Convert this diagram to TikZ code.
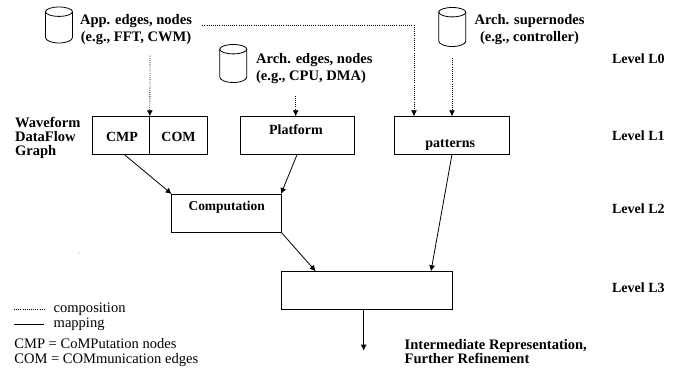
\documentclass[tikz,border=0pt]{standalone}
\usepackage{fontspec}
\setmainfont{Liberation Serif}
\usetikzlibrary{arrows.meta}
\tikzset{
  blockbox/.style={draw,rectangle,minimum height=28.5pt,inner sep=0pt,outer sep=0pt},
  pics/store/.style={code={
    \draw (-13.5,4.7) arc[start angle=180,end angle=-180,x radius=13.5,y radius=-4.7];
    \draw (-13.5,4.7) -- (-13.5,#1-5.5) arc[start angle=180,end angle=360,x radius=13.5,y radius=-5.5] -- (13.5,4.7);
  }},
  boldlabel/.style={font=\bfseries\fontsize{10.5}{12.75}\selectfont,inner sep=0pt},
  widelabel/.style={font=\bfseries\fontsize{10.9}{12.75}\selectfont,inner sep=0pt},
  pluslabel/.style={font=\fontsize{10.9}{11}\selectfont,inner sep=0pt,anchor=west,align=left},
  compose/.style={densely dotted,-{Latex[length=4.5pt,width=4.5pt]}},
  mapto/.style={-{Latex[length=4.5pt,width=4.5pt]}}
}
\begin{document}
\begin{tikzpicture}[x=0.75pt,y=-0.75pt,line width=0.6pt]
    \useasboundingbox (0,0) rectangle (689,371);
    \pic (appstore) at (59,7) {store=36};
    \pic (archstore) at (233.3,44.5) {store=38};
    \pic (superstore) at (452.3,7.5) {store=39};
    \node[widelabel,align=center] (applabel) at (136,29.7) {App. edges, nodes\\(e.g., FFT, CWM)};
    \node[widelabel,align=left,anchor=west] (archlabel) at (255.7,68.5) {Arch. edges, nodes\\(e.g., CPU, DMA)};
    \node[widelabel,align=center] (superlabel) at (529.5,29.7) {Arch. supernodes\\(e.g., controller)};
    \node[boldlabel,anchor=west] (levelzero) at (611.7,58.7) {Level L0};
    \node[boldlabel,anchor=west] (levelone) at (611.7,136) {Level L1};
    \node[boldlabel,anchor=west] (leveltwo) at (611.7,209) {Level L2};
    \node[boldlabel,anchor=west] (levelthree) at (611.7,288) {Level L3};
    \node[widelabel,align=left,anchor=west] (wdfg) at (14.7,138) {Waveform\\[-2.25pt]DataFlow\\[-2.25pt]Graph};
    \node[blockbox,minimum width=86.25pt] (graphbox) at (149.8,135.3) {};
    \node[boldlabel] (cmp) at (122,136.5) {CMP};
    \node[boldlabel] (com) at (178.5,136.5) {COM};
    \node[blockbox,minimum width=85.75pt] (platbox) at (297.2,135.3) {};
    \node[boldlabel] (plat) at (296,129.3) {Platform};
    \node[blockbox,minimum width=86pt] (patbox) at (452,135.3) {};
    \node[boldlabel] (pat) at (450.3,145.2) {patterns};
    \node[blockbox,minimum width=82pt] (compbox) at (226.3,213) {};
    \node[boldlabel,font=\bfseries\fontsize{10.1}{12}\selectfont] (comp) at (226.7,207.2) {Computation};
    \node[blockbox,minimum width=128.5pt] (lastbox) at (366.7,290.3) {};
    \node[widelabel,align=left,anchor=west] (refine) at (404.3,351.3) {Intermediate Representation,\\[-2.25pt]Further Refinement};
    \node[pluslabel] (dotname) at (53.3,309.5) {composition};
    \node[pluslabel] (linename) at (53.3,324.5) {mapping};
    \node[pluslabel] (abbrev) at (14,352.5) {CMP = CoMPutation nodes\\COM = COMmunication edges};
    \coordinate (appout) at (150,55.7);
    \coordinate (appside) at (202.3,25.3);
    \coordinate (corner) at (414,25.3);
    \coordinate (patin) at (414,116.3);
    \coordinate (archout) at (295.7,95.7);
    \coordinate (superout) at (452,58);
    \coordinate (cmpout) at (124,154.3);
    \coordinate (lastcomp) at (315.7,271.3);
    \coordinate (lastpat) at (431,271.3);
    \coordinate (lastout) at (363.7,309.3);
    \coordinate (lastend) at (363.7,350.7);
    \draw (graphbox.north) -- (graphbox.south);
    \draw[compose] (appout) -- (graphbox.north);
    \draw[compose] (appside) -- (corner) -- (patin);
    \draw[compose] (archout) -- (archout |- platbox.north);
    \draw[compose] (superout) -- (superout |- patbox.north);
    \draw[mapto] (cmpout) -- (compbox.north west);
    \draw[mapto] (platbox.south) -- (compbox.north east);
    \draw[mapto] (patbox.south) -- (lastpat);
    \draw[mapto] (compbox.south east) -- (lastcomp);
    \draw[mapto] (lastout) -- (lastend);
    \draw[densely dotted] (14,309) -- (44,309);
    \draw (14,324.3) -- (44,324.3);
    \fill (79,253) circle (0.4);
\end{tikzpicture}
\end{document}
